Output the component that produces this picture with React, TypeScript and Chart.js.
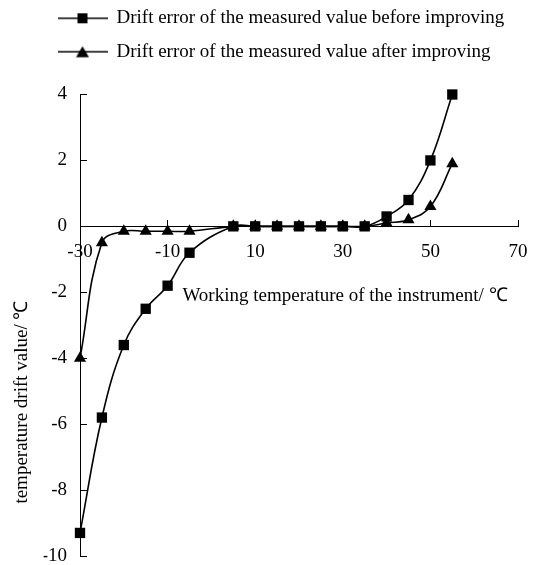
import React, { useEffect, useRef } from 'react';
import { Chart, registerables } from 'chart.js';

Chart.register(...registerables);

// ---- data ----
const temperatures = [-30, -25, -20, -15, -10, -5, 5, 10, 15, 20, 25, 30, 35, 40, 45, 50, 55];
const driftBefore = [-9.3, -5.8, -3.6, -2.5, -1.8, -0.8, 0, 0, 0, 0, 0, 0, 0, 0.3, 0.8, 2.0, 4.0];
const driftAfter = [-4.0, -0.5, -0.15, -0.15, -0.15, -0.15, 0, 0, 0, 0, 0, 0, 0, 0.1, 0.2, 0.6, 1.9];
const seriesLabels = [
  'Drift error of the measured value before improving',
  'Drift error of the measured value after improving',
];
const xAxisTitle = 'Working temperature of the instrument/ \u2103';
const yAxisTitle = 'temperature drift value/ \u2103';
const xRange = [-30, 70];
const xStep = 20;
const yRange = [-10, 4];
const yStep = 2;

// ---- style ----
const FONT = '"Liberation Serif", "Times New Roman", Times, serif';
const FONT_SIZE = 19;
const PAD_TOP = -5.6;
const PAD_LEFT = 43.6;
const LEGEND_PAD = 14.4;
const PLOT_LEFT = 80;
const PLOT_TOP = 94.5;
const PLOT_BOTTOM_GAP = 9;
const PLOT_RIGHT_GAP = 18;
const LEGEND_HEIGHT = 2 * (FONT_SIZE + LEGEND_PAD) + 10;
const SPACER = PLOT_TOP - PAD_TOP - LEGEND_HEIGHT;

function makeLegendIcon(kind: 'rect' | 'triangle'): HTMLCanvasElement {
  const c = document.createElement('canvas');
  c.width = 50;
  c.height = 14;
  const g = c.getContext('2d')!;
  g.strokeStyle = '#000';
  g.fillStyle = '#000';
  g.lineWidth = 1.6;
  g.beginPath();
  g.moveTo(0, 7);
  g.lineTo(50, 7);
  g.stroke();
  if (kind === 'rect') {
    g.fillRect(20, 2, 10, 10);
  } else {
    g.beginPath();
    g.moveTo(25, 1.5);
    g.lineTo(31.5, 12.5);
    g.lineTo(18.5, 12.5);
    g.closePath();
    g.fill();
  }
  return c;
}

const axisTitlePlugin = {
  id: 'axisTitles',
  afterDraw(chart: any) {
    const { ctx, scales, chartArea } = chart;
    const xs = scales.x;
    const ys = scales.y;
    ctx.save();
    ctx.fillStyle = '#000';
    ctx.font = `${FONT_SIZE}px ${FONT}`;
    ctx.textAlign = 'center';
    ctx.textBaseline = 'middle';
    ctx.fillText(xAxisTitle, xs.getPixelForValue(30.5), ys.getPixelForValue(-2.1));
    ctx.translate(chartArea.left - 58, ys.getPixelForValue(-5.33));
    ctx.rotate(-Math.PI / 2);
    ctx.fillText(yAxisTitle, 0, 0);
    ctx.restore();
  },
};

export default function App() {
  const canvasRef = useRef<HTMLCanvasElement | null>(null);

  useEffect(() => {
    const canvas = canvasRef.current;
    if (!canvas) return;
    const icons = [makeLegendIcon('rect'), makeLegendIcon('triangle')];
    const tickFont = { family: FONT, size: FONT_SIZE };

    const chart = new Chart(canvas, {
      type: 'line',
      data: {
        datasets: [
          {
            label: seriesLabels[0],
            data: temperatures.map((t, i) => ({ x: t, y: driftBefore[i] })),
            borderColor: '#000',
            backgroundColor: '#000',
            borderWidth: 1.6,
            pointStyle: 'rect',
            pointRadius: 7.3,
            pointBackgroundColor: '#000',
            pointBorderColor: '#000',
            pointBorderWidth: 0,
            tension: 0.4,
            clip: false,
          },
          {
            label: seriesLabels[1],
            data: temperatures.map((t, i) => ({ x: t, y: driftAfter[i] })),
            borderColor: '#000',
            backgroundColor: '#000',
            borderWidth: 1.6,
            pointStyle: 'triangle',
            pointRadius: 7,
            pointBackgroundColor: '#000',
            pointBorderColor: '#000',
            pointBorderWidth: 0,
            tension: 0.4,
            clip: false,
          },
        ],
      },
      options: {
        responsive: true,
        maintainAspectRatio: false,
        animation: false,
        layout: { padding: { top: PAD_TOP, left: PAD_LEFT, right: PLOT_RIGHT_GAP, bottom: 0 } },
        plugins: {
          tooltip: { enabled: false },
          // empty title used only as a spacer between the legend and the plot
          title: {
            display: true,
            text: '',
            weight: 500,
            font: { size: 10, lineHeight: 1 },
            padding: { top: 0, bottom: SPACER - 10 },
          },
          legend: {
            display: true,
            position: 'top',
            align: 'start',
            weight: 1000,
            labels: {
              usePointStyle: true,
              pointStyleWidth: 49,
              padding: LEGEND_PAD,
              color: '#000',
              font: { family: FONT, size: FONT_SIZE },
              generateLabels: (ch: any) =>
                ch.data.datasets.map((ds: any, i: number) => ({
                  text: ds.label,
                  pointStyle: icons[i],
                  datasetIndex: i,
                  hidden: false,
                  lineWidth: 0,
                  fillStyle: '#000',
                  strokeStyle: '#000',
                  fontColor: '#000',
                })),
            },
          },
        },
        scales: {
          x: {
            type: 'linear',
            position: { y: 0 },
            min: xRange[0],
            max: xRange[1],
            ticks: {
              stepSize: xStep,
              padding: 21,
              color: '#000',
              font: tickFont,
              maxRotation: 0,
              autoSkip: false,
            },
            grid: { drawOnChartArea: false, tickLength: -7, color: '#000', tickWidth: 1 },
            border: { color: '#000', width: 1 },
            afterFit: (s: any) => {
              s.paddingLeft = 0;
              s.paddingRight = 0;
            },
          },
          y: {
            type: 'linear',
            position: 'left',
            min: yRange[0],
            max: yRange[1],
            ticks: {
              stepSize: yStep,
              padding: 20,
              color: '#000',
              font: tickFont,
            },
            grid: { drawOnChartArea: false, tickLength: -7, color: '#000', tickWidth: 1 },
            border: { color: '#000', width: 1 },
            afterFit: (s: any) => {
              s.width = PLOT_LEFT - PAD_LEFT;
              s.paddingTop = 0;
              s.paddingBottom = PLOT_BOTTOM_GAP;
            },
          },
        },
      } as any,
      plugins: [axisTitlePlugin],
    });

    return () => chart.destroy();
  }, []);

  return (
    <div style={{ position: 'absolute', left: 0, top: 0, width: 536, height: 565, background: '#fff' }}>
      <canvas ref={canvasRef} />
    </div>
  );
}
